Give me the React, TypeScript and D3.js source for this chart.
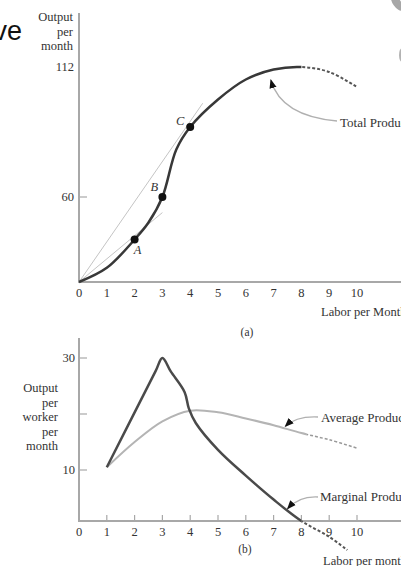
import * as d3 from "d3";

const W = 401;
const H = 566;

// top panel: total product
const TP_LABOR = [0, 1, 2, 2.5, 3, 3.5, 4, 5, 6, 7, 8, 9, 10];
const TP_VALUES = [0, 10, 30, 42, 60, 79, 88, 99, 107, 111, 112, 110, 104];
const TP_SOLID_END = 8;
const TP_POINTS = [
  { name: "A", labor: 2, value: 30 },
  { name: "B", labor: 3, value: 60 },
  { name: "C", labor: 4, value: 88 },
];
const RAY_C = [[0, 0], [4.45, 97.5]];
const RAY_A = [[0, 0], [3, 49]];
const TOP_Y_TICKS = [60, 112];
const X_TICKS = [0, 1, 2, 3, 4, 5, 6, 7, 8, 9, 10];

// bottom panel: average and marginal product
const AP_LABOR = [1, 2, 3, 4, 5, 6, 7, 8, 9, 10];
const AP_VALUES = [10.5, 15, 18.7, 20.6, 20.3, 19.2, 18, 16.6, 15.4, 13.9];
const AP_SOLID_END = 8.2;
const MP_LABOR = [1, 2.75, 3, 3.3, 3.8, 3.95, 4.2, 5, 6, 7, 8, 9, 9.65];
const MP_VALUES = [10.5, 27.6, 30, 27.6, 23.9, 21, 18.4, 13.6, 8.9, 4.2, 0, -3.1, -5.7];
const MP_SOLID_END = 8;
const BOT_Y_TICKS = [10, 20, 30];
const BOT_Y_LABELS = [10, 30];

const SERIF = "'Liberation Serif', 'DejaVu Serif', serif";
const TEXT = "#333";
const AXIS = "#a8a8a8";

const xScale = d3.scaleLinear().domain([0, 10]).range([79, 357]);
const yTop = d3.scaleLinear().domain([0, 60, 112]).range([282, 197, 67]);
const yBot = d3.scaleLinear().domain([0, 10, 30]).range([521, 470, 358]);

const zip = (xs: number[], ys: number[]) => xs.map((x, i) => [x, ys[i]] as [number, number]);

const topLine = d3
  .line<[number, number]>()
  .x((d) => xScale(d[0]))
  .y((d) => yTop(d[1]))
  .curve(d3.curveCatmullRom.alpha(0.5));
const topStraight = d3
  .line<number[]>()
  .x((d) => xScale(d[0]))
  .y((d) => yTop(d[1]));
const botLine = d3
  .line<[number, number]>()
  .x((d) => xScale(d[0]))
  .y((d) => yBot(d[1]))
  .curve(d3.curveCatmullRom.alpha(0.5));

// draws one curve solid up to `solidEnd` and dashed after
function SplitCurve({
  id,
  d,
  solidEnd,
  stroke,
  width,
  dashStroke,
}: {
  id: string;
  d: string;
  solidEnd: number;
  stroke: string;
  width: number;
  dashStroke: string;
}) {
  const cut = xScale(solidEnd);
  return (
    <g>
      <clipPath id={`${id}-solid`}>
        <rect x={0} y={0} width={cut} height={H} />
      </clipPath>
      <clipPath id={`${id}-dash`}>
        <rect x={cut} y={0} width={W - cut} height={H} />
      </clipPath>
      <path d={d} stroke={stroke} strokeWidth={width} fill="none" clipPath={`url(#${id}-solid)`} />
      <path
        d={d}
        stroke={dashStroke}
        strokeWidth={width - 0.5}
        strokeDasharray="3,2"
        fill="none"
        clipPath={`url(#${id}-dash)`}
      />
    </g>
  );
}

export default function App() {
  const labelOffsets: Record<string, [number, number]> = {
    A: [3, 14],
    B: [-8, -6],
    C: [-10, -2],
  };

  return (
    <svg width={W} height={H} style={{ display: "block", position: "absolute", left: 0, top: 0 }}>
      <defs>
        <marker id="arrow" viewBox="0 0 10 10" refX="9" refY="5" markerWidth="7" markerHeight="7" orient="auto">
          <path d="M0,1 L10,5 L0,9 Z" fill="#111" />
        </marker>
      </defs>
      <rect width={W} height={H} fill="#fff" />

      {/* clipped heading and decoration */}
      <text x={22} y={40} textAnchor="end" fontFamily="'Liberation Sans', Arial, sans-serif" fontSize={27} fill="#111">
        ve
      </text>
      <ellipse cx={397} cy={3} rx={4} ry={9} transform="rotate(-35 397 3)" fill="#8a8a8a" opacity={0.75} />
      <ellipse cx={402} cy={55} rx={3} ry={7} fill="#999" opacity={0.75} />

      {/* ===== panel (a) ===== */}
      <line x1={79} x2={79} y1={13} y2={283} stroke={AXIS} strokeWidth={2} />
      <line x1={78} x2={W} y1={282} y2={282} stroke={AXIS} strokeWidth={2} />
      {["Output", "per", "month"].map((t, i) => (
        <text key={t} x={73} y={21 + i * 14.5} textAnchor="end" fontFamily={SERIF} fontSize={12.5} fill={TEXT}>
          {t}
        </text>
      ))}
      {TOP_Y_TICKS.map((v) => (
        <g key={v}>
          <text x={74} y={yTop(v) + 4} textAnchor="end" fontFamily={SERIF} fontSize={12.5} fill={TEXT}>
            {v}
          </text>
          {v === 60 && <line x1={80} x2={87} y1={yTop(v)} y2={yTop(v)} stroke={AXIS} strokeWidth={1.2} />}
        </g>
      ))}
      {X_TICKS.map((v) => (
        <text key={v} x={xScale(v)} y={297} textAnchor="middle" fontFamily={SERIF} fontSize={12.5} fill={TEXT}>
          {v}
        </text>
      ))}
      <text x={321} y={316} fontFamily={SERIF} fontSize={12.5} fill={TEXT}>
        Labor per Month
      </text>
      <text x={247} y={336} textAnchor="middle" fontFamily={SERIF} fontSize={11.5} fill={TEXT}>
        (a)
      </text>

      <path d={topStraight(RAY_C) || ""} stroke="#c4c4c4" strokeWidth={1} fill="none" />
      <path d={topStraight(RAY_A) || ""} stroke="#c4c4c4" strokeWidth={1} fill="none" />

      <SplitCurve
        id="tp"
        d={topLine(zip(TP_LABOR, TP_VALUES)) || ""}
        solidEnd={TP_SOLID_END}
        stroke="#383838"
        width={2.5}
        dashStroke="#555"
      />
      {TP_POINTS.map((p) => (
        <g key={p.name}>
          <circle cx={xScale(p.labor)} cy={yTop(p.value)} r={4} fill="#111" />
          <text
            x={xScale(p.labor) + labelOffsets[p.name][0]}
            y={yTop(p.value) + labelOffsets[p.name][1]}
            textAnchor="middle"
            fontFamily={SERIF}
            fontStyle="italic"
            fontSize={12.5}
            fill={TEXT}
          >
            {p.name}
          </text>
        </g>
      ))}
      <path
        d={`M337,121 Q281,116 ${xScale(6.9)},${yTop(108) + 3}`}
        stroke="#b0b0b0"
        strokeWidth={1.3}
        fill="none"
        markerEnd="url(#arrow)"
      />
      <text x={340} y={127} fontFamily={SERIF} fontSize={13} fill={TEXT}>
        Total Product
      </text>

      {/* ===== panel (b) ===== */}
      <line x1={79} x2={79} y1={338} y2={522} stroke={AXIS} strokeWidth={2} />
      <line x1={78} x2={W} y1={521} y2={521} stroke={AXIS} strokeWidth={2} />
      {["Output", "per", "worker", "per", "month"].map((t, i) => (
        <text key={i} x={58} y={392 + i * 14.5} textAnchor="end" fontFamily={SERIF} fontSize={12.5} fill={TEXT}>
          {t}
        </text>
      ))}
      {BOT_Y_TICKS.map((v) => (
        <line key={v} x1={80} x2={87} y1={yBot(v)} y2={yBot(v)} stroke={AXIS} strokeWidth={1.2} />
      ))}
      {BOT_Y_LABELS.map((v) => (
        <text key={v} x={75} y={yBot(v) + 4} textAnchor="end" fontFamily={SERIF} fontSize={12.5} fill={TEXT}>
          {v}
        </text>
      ))}
      {X_TICKS.filter((v) => v > 0).map((v) => (
        <line key={v} x1={xScale(v)} x2={xScale(v)} y1={515} y2={521} stroke={AXIS} strokeWidth={1.2} />
      ))}
      {X_TICKS.map((v) => (
        <text key={v} x={xScale(v)} y={536} textAnchor="middle" fontFamily={SERIF} fontSize={12.5} fill={TEXT}>
          {v}
        </text>
      ))}
      <text x={245} y={553} textAnchor="middle" fontFamily={SERIF} fontSize={11.5} fill={TEXT}>
        (b)
      </text>
      <text x={323} y={565} fontFamily={SERIF} fontSize={12.5} fill={TEXT}>
        Labor per month
      </text>

      <SplitCurve
        id="ap"
        d={botLine(zip(AP_LABOR, AP_VALUES)) || ""}
        solidEnd={AP_SOLID_END}
        stroke="#b4b4b4"
        width={2}
        dashStroke="#999"
      />
      <SplitCurve
        id="mp"
        d={botLine(zip(MP_LABOR, MP_VALUES)) || ""}
        solidEnd={MP_SOLID_END}
        stroke="#4a4a4a"
        width={2.5}
        dashStroke="#555"
      />

      <path
        d={`M318,417 Q296,416 ${xScale(7.42)},${yBot(17.6) - 1}`}
        stroke="#b0b0b0"
        strokeWidth={1.3}
        fill="none"
        markerEnd="url(#arrow)"
      />
      <text x={321} y={422} fontFamily={SERIF} fontSize={13} fill={TEXT}>
        Average Product
      </text>
      <path
        d={`M318,497 Q299,496 ${xScale(7.5)},${yBot(2.4)}`}
        stroke="#b0b0b0"
        strokeWidth={1.3}
        fill="none"
        markerEnd="url(#arrow)"
      />
      <text x={320} y={501} fontFamily={SERIF} fontSize={13} fill={TEXT}>
        Marginal Product
      </text>
    </svg>
  );
}
